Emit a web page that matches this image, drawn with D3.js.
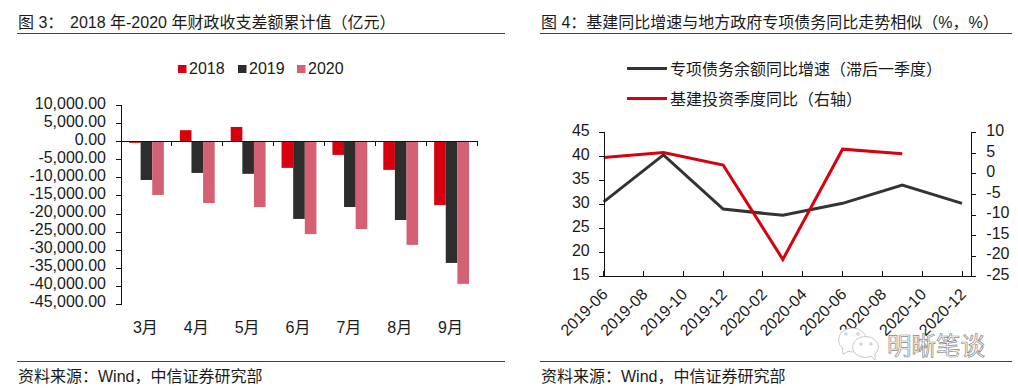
<!DOCTYPE html>
<html><head><meta charset="utf-8">
<script src="https://cdn.jsdelivr.net/npm/d3@7"></script>
<style>
html,body{margin:0;padding:0;background:#fff;overflow:hidden}
svg{display:block}
text{font-family:"Liberation Sans","Noto Sans CJK SC",sans-serif;fill:#1a1a1a}
</style></head><body>
<svg id="c" width="1018" height="389"></svg>
<script>
const months=["3月","4月","5月","6月","7月","8月","9月"];
const seriesNames=["2018","2019","2020"];
const v2018=[-400,3100,4000,-7350,-3750,-7900,-17650];
const v2019=[-10700,-8750,-9000,-21500,-18200,-21800,-33700];
const v2020=[-14850,-17100,-18200,-25700,-24300,-28700,-39500];
const leftTicks=[10000,5000,0,-5000,-10000,-15000,-20000,-25000,-30000,-35000,-40000,-45000];
const dateTicks=["2019-06","2019-08","2019-10","2019-12","2020-02","2020-04","2020-06","2020-08","2020-10","2020-12"];
const lineDates=["2019-06","2019-09","2019-12","2020-03","2020-06","2020-09","2020-12"];
const debt=[30.5,40.3,29,27.7,30.2,34,30.2];
const infra=[3.9,5.1,2.05,-20.9,5.9,4.8];
const colors=["#d7000f","#2d2d2d","#d46073"];
const line1Name="专项债务余额同比增速（滞后一季度）";
const line2Name="基建投资季度同比（右轴）";
const svg=d3.select("#c");

function txt(x,y,s,size,anchor){
  return svg.append("text").attr("x",x).attr("y",y).attr("font-size",size)
    .attr("text-anchor",anchor||"start").text(s);
}
function rule(x1,x2,y){
  svg.append("line").attr("x1",x1).attr("x2",x2).attr("y1",y).attr("y2",y)
    .attr("stroke","#b01116").attr("stroke-width",1);
}
function styleAxis(g){
  g.selectAll("path,line").attr("stroke","#111").attr("stroke-width",1).attr("shape-rendering","crispEdges");
}
// headers & footers
txt(18,28,"图 3：",16);
txt(70,28,"2018 年-2020 年财政收支差额累计值（亿元）",16);
rule(17,505,33.5);
txt(541,28,"图 4：基建同比增速与地方政府专项债务同比走势相似（%，%）",16);
rule(540,1012,33.5);
rule(17,505,361.5);
rule(540,1012,361.5);
txt(18,382,"资料来源：Wind，中信证券研究部",16);
txt(541,382,"资料来源：Wind，中信证券研究部",16);

// left chart
const yL=d3.scaleLinear().domain([-45000,10000]).range([303.7,105.3]);
const xL=d3.scaleBand().domain(months).range([121,477]).paddingInner(0).paddingOuter(0);
const xG=d3.scaleBand().domain(seriesNames).range([8,xL.bandwidth()-8]);
const allSeries=[v2018,v2019,v2020];
allSeries.forEach((vals,i)=>{
  svg.append("g").selectAll("rect").data(vals).join("rect")
    .attr("x",(d,j)=>xL(months[j])+xG(seriesNames[i]))
    .attr("width",xG.bandwidth())
    .attr("y",d=>Math.min(yL(d),yL(0)))
    .attr("height",d=>Math.abs(yL(d)-yL(0)))
    .attr("fill",colors[i]);
});
const ay=svg.append("g").attr("transform","translate(121,0)")
  .call(d3.axisLeft(yL).tickValues(leftTicks).tickSize(5).tickPadding(2).tickFormat(d3.format(",.2f")));
ay.call(styleAxis);
ay.selectAll("text").attr("font-size",16).attr("x",-15).attr("dy","0.2em").text(d=>d3.format(",.2f")(d).replace("−","-"));
const ax=svg.append("g").attr("transform",`translate(0,${yL(0)})`)
  .call(d3.axisBottom(xL).tickValues([]).tickSize(0));
ax.call(styleAxis);
const bandTicks=d3.range(months.length+1).map(i=>121+i*xL.bandwidth());
ax.selectAll("line.t").data(bandTicks).join("line").attr("class","t").attr("x1",d=>d).attr("x2",d=>d).attr("y1",0).attr("y2",5)
  .attr("stroke","#111").attr("shape-rendering","crispEdges");
svg.append("g").selectAll("text").data(months).join("text")
  .attr("x",d=>xL(d)+xL.bandwidth()/2-1).attr("y",333).attr("text-anchor","middle").attr("font-size",16).text(d=>d);
// legend left
[[178,"2018"],[238,"2019"],[297,"2020"]].forEach((l,i)=>{
  svg.append("rect").attr("x",l[0]).attr("y",65).attr("width",8.5).attr("height",8).attr("fill",colors[i]);
  txt(l[0]+11,73.5,seriesNames[i],16);
});

// right chart
const monthIdx=s=>{const [y,m]=s.split("-").map(Number);return (y-2019)*12+m-6;};
const X0=603.7,X1=971.3,T=132.3,B=276.3;
const xR=d3.scaleLinear().domain([0,18]).range([X0,962]);
const yA=d3.scaleLinear().domain([15,45]).range([B,T]);
const yB=d3.scaleLinear().domain([-25,10]).range([B,T]);
const lineA=d3.line().x((d,i)=>xR(monthIdx(lineDates[i]))).y(d=>yA(d));
const lineB=d3.line().x((d,i)=>xR(monthIdx(lineDates[i]))).y(d=>yB(d));
svg.append("path").attr("d",lineA(debt)).attr("fill","none").attr("stroke","#333").attr("stroke-width",3);
svg.append("path").attr("d",lineB(infra)).attr("fill","none").attr("stroke","#d7000f").attr("stroke-width",3);
const aL=svg.append("g").attr("transform",`translate(${X0},0)`)
  .call(d3.axisLeft(yA).tickValues(d3.range(15,46,5)).tickSize(5).tickPadding(7).tickFormat(d3.format("d")));
aL.call(styleAxis); aL.selectAll("text").attr("font-size",16).attr("x",-14).attr("dy","0.2em");
const aR=svg.append("g").attr("transform",`translate(${X1},0)`)
  .call(d3.axisRight(yB).tickValues(d3.range(-25,11,5)).tickSize(5).tickPadding(7).tickFormat(d=>String(d)));
aR.call(styleAxis); aR.selectAll("text").attr("font-size",16).attr("x",15).attr("dy","0.2em");
svg.append("line").attr("x1",X0).attr("x2",X1).attr("y1",B).attr("y2",B).attr("stroke","#111").attr("shape-rendering","crispEdges");
svg.append("g").selectAll("line").data(dateTicks).join("line")
  .attr("x1",d=>xR(monthIdx(d))).attr("x2",d=>xR(monthIdx(d))).attr("y1",B).attr("y2",B-5)
  .attr("stroke","#111").attr("shape-rendering","crispEdges");
svg.append("g").selectAll("text").data(dateTicks).join("text")
  .attr("text-anchor","end").attr("font-size",16)
  .attr("transform",d=>`translate(${xR(monthIdx(d))+5},${B+19}) rotate(-45)`)
  .text(d=>d);
// right legend
svg.append("line").attr("x1",627).attr("x2",667).attr("y1",68.5).attr("y2",68.5).attr("stroke","#333").attr("stroke-width",3);
txt(670,74.5,line1Name,16);
svg.append("line").attr("x1",627).attr("x2",667).attr("y1",98.5).attr("y2",98.5).attr("stroke","#d7000f").attr("stroke-width",3);
txt(670,104.5,line2Name,16);

// watermark
const wm=svg.append("g");
wm.append("ellipse").attr("cx",852.5).attr("cy",340).attr("rx",14).attr("ry",12).attr("fill","#fff").attr("stroke","#bbb").attr("stroke-width",0.8);
wm.append("path").attr("d","M842,348 L843,354 L849,351").attr("fill","#fff").attr("stroke","#bbb").attr("stroke-width",0.8);
wm.append("ellipse").attr("cx",865.5).attr("cy",347).attr("rx",13).attr("ry",10.5).attr("fill","#fff").attr("stroke","#bbb").attr("stroke-width",0.8);
wm.append("path").attr("d","M871,356 L875,360 L875,354").attr("fill","#fff").attr("stroke","#bbb").attr("stroke-width",0.8);
wm.selectAll("circle").data([[846,334],[858,334],[861,344],[871,344]]).join("circle").attr("cx",d=>d[0]).attr("cy",d=>d[1]).attr("r",1.2).attr("fill","none").attr("stroke","#aaa").attr("stroke-width",0.7);
wm.append("text").attr("x",887).attr("y",355).attr("font-size",24.5)
  .style("fill","#fff").attr("stroke","#8a8a8a").attr("stroke-width",0.7).text("明晰笔谈");
</script>
</body></html>
